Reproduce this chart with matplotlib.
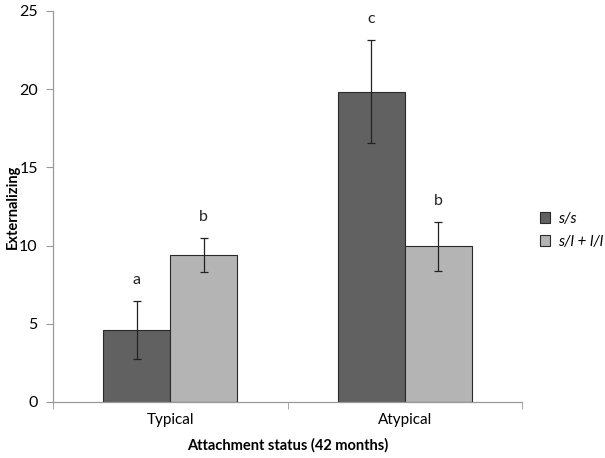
import matplotlib
matplotlib.use("Agg")
import matplotlib.pyplot as plt
import numpy as np
from matplotlib.patches import Patch

categories = ["Typical", "Atypical"]
series_names = ["s/s", "s/l + l/l"]
ss_vals = [4.6, 19.85]
ss_err = [1.85, 3.3]
sl_vals = [9.4, 9.95]
sl_err = [1.1, 1.55]
ss_letters = ["a", "c"]
sl_letters = ["b", "b"]

plt.rcParams['font.family'] = ['Lato', 'DejaVu Sans']

fig = plt.figure(figsize=(6.05, 4.58), dpi=100)
ax = fig.add_axes([0.0876, 0.1223, 0.7755, 0.8537])

x = np.arange(len(categories))
w = 0.285
dark = "#616161"
light = "#b4b4b4"
edge = "#2a2a2a"
ax.bar(x - w/2, ss_vals, w, color=dark, edgecolor=edge, linewidth=0.8, zorder=2)
ax.bar(x + w/2, sl_vals, w, color=light, edgecolor=edge, linewidth=0.8, zorder=2)
ax.errorbar(x - w/2, ss_vals, yerr=ss_err, fmt='none', ecolor='#222222', elinewidth=0.9, capsize=3, capthick=0.9, zorder=3)
ax.errorbar(x + w/2, sl_vals, yerr=sl_err, fmt='none', ecolor='#222222', elinewidth=0.9, capsize=3, capthick=0.9, zorder=3)

for xi, v, e, t in zip(x - w/2, ss_vals, ss_err, ss_letters):
    ax.text(xi, v + e + 0.9, t, ha='center', va='bottom', fontsize=11.5, color='#222222')
for xi, v, e, t in zip(x + w/2, sl_vals, sl_err, sl_letters):
    ax.text(xi, v + e + 0.9, t, ha='center', va='bottom', fontsize=11.5, color='#222222')

ax.set_xlim(-0.5, 1.5)
ax.set_ylim(0, 25)
ax.set_yticks([0, 5, 10, 15, 20, 25])
ax.set_xticks(x)
ax.set_xticklabels(categories)
ax.set_xticks([-0.5, 0.5, 1.5], minor=True)
ax.tick_params(axis='x', which='major', length=0, pad=8, labelsize=11)
ax.tick_params(axis='x', which='minor', length=5, color='#999999', direction='out')
ax.tick_params(axis='y', length=5, color='#999999', direction='out', labelsize=11.5, pad=6)
for s in ['top', 'right']:
    ax.spines[s].set_visible(False)
for s in ['left', 'bottom']:
    ax.spines[s].set_color('#999999')
    ax.spines[s].set_linewidth(0.9)

ax.set_ylabel("Externalizing", fontsize=10.5, fontweight='bold', va='center')
ax.yaxis.set_label_coords(-0.086, 0.5)
ax.set_xlabel("Attachment status (42 months)", fontsize=10.5, fontweight='bold', labelpad=8)

handles = [Patch(facecolor=dark, edgecolor=edge, linewidth=0.8),
           Patch(facecolor=light, edgecolor=edge, linewidth=0.8)]
leg = fig.legend(handles, series_names, loc='center left', bbox_to_anchor=(0.882, 0.497),
                 frameon=False, handlelength=0.7, handleheight=0.7, handletextpad=0.5,
                 labelspacing=0.6, borderaxespad=0, prop={'style': 'italic', 'size': 11})

fig.savefig("out.png", dpi=100)
